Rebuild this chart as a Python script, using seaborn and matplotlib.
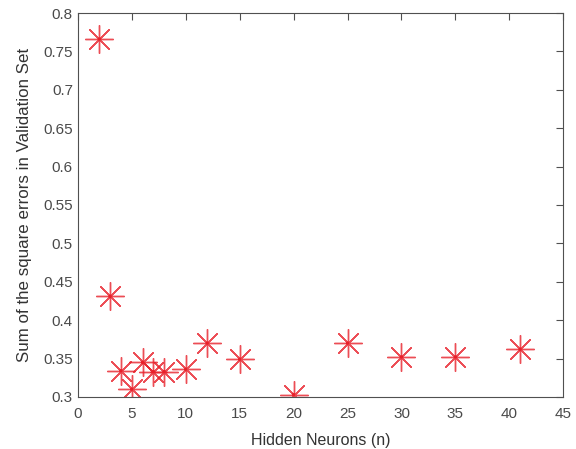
import numpy as np
import pandas as pd
import matplotlib
matplotlib.use('Agg')
import matplotlib.pyplot as plt
import seaborn as sns

# hidden neurons vs validation error
neurons = [2, 3, 4, 5, 6, 7, 8, 10, 12, 15, 20, 25, 30, 35, 41]
sse = [0.766, 0.431, 0.334, 0.310, 0.345, 0.333, 0.333, 0.336, 0.370, 0.349, 0.303, 0.370, 0.352, 0.352, 0.362]

df = pd.DataFrame({'n': neurons, 'sse': sse})

sns.set_style('white')
plt.rcParams['font.family'] = ['Liberation Sans', 'DejaVu Sans']

fig, ax = plt.subplots(figsize=(5.76, 4.49), dpi=100)

sns.scatterplot(data=df, x='n', y='sse', ax=ax, marker=(8, 2, 0), s=400,
                color='#e8202a', edgecolor='#e8202a', linewidth=1.0, alpha=0.8)
# small centre dot
sns.scatterplot(data=df, x='n', y='sse', ax=ax, marker='o', s=6,
                color='#e8202a', edgecolor='none', linewidth=0)

ax.set_xlim(0, 45)
ax.set_ylim(0.3, 0.8)
ax.set_xticks(np.arange(0, 46, 5))
ax.set_yticks(np.arange(0.3, 0.801, 0.05))
ax.set_yticklabels(['0.3', '0.35', '0.4', '0.45', '0.5', '0.55', '0.6', '0.65', '0.7', '0.75', '0.8'])

ax.tick_params(direction='in', length=5, width=0.8, colors='#505050',
               labelcolor='#4a4a4a', labelsize=11, top=True, right=True,
               labeltop=False, labelright=False)
ax.tick_params(axis='x', pad=7)
for sp in ax.spines.values():
    sp.set_color('#505050')
    sp.set_linewidth(0.8)

ax.set_xlabel('Hidden Neurons (n)', fontsize=11.5, color='#333333', labelpad=9)
ax.set_ylabel('Sum of the square errors in Validation Set', fontsize=12.2, color='#333333', labelpad=8)

fig.subplots_adjust(left=0.135, right=0.978, top=0.971, bottom=0.116)
fig.savefig('out.png', dpi=100)
